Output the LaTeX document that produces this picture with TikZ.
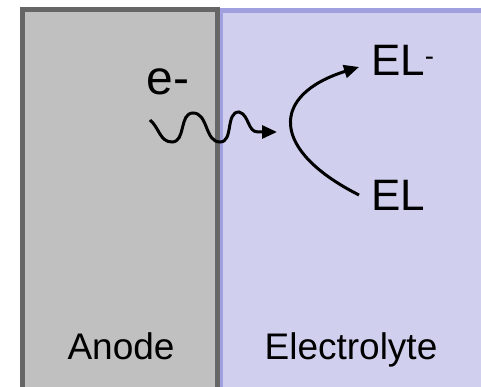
\documentclass[tikz,border=0pt]{standalone}
\usepackage{fontspec}
\setmainfont{Liberation Sans}
\usetikzlibrary{arrows.meta}
\definecolor{anodefill}{RGB}{192,192,192}
\definecolor{anodeline}{RGB}{102,102,102}
\definecolor{elecfill}{RGB}{208,208,238}
\definecolor{elecline}{RGB}{160,160,224}
\tikzset{
  big/.style={font=\fontsize{44}{52}\selectfont, inner sep=0pt},
  lbl/.style={font=\fontsize{37}{44}\selectfont, inner sep=0pt, anchor=base},
  conn/.style={line width=3pt, -{Triangle[length=15pt,width=13pt]}}
}
\begin{document}
\begin{tikzpicture}[x=1pt,y=1pt]
\useasboundingbox (0,0) rectangle (481,387);
\clip (0,0) rectangle (481,387);
% regions
\draw[fill=elecfill, draw=elecline, line width=4.5pt] (221,-10) rectangle (495,376.7);
\draw[fill=anodefill, draw=anodeline, line width=5pt] (22.5,-10) rectangle (217,377.2);
% labels
\node[lbl] (anode) at (121,27) {Anode};
\node[lbl] (electrolyte) at (351,27) {Electrolyte};
\node[big, font=\fontsize{48}{56}\selectfont, anchor=base west] (e) at (146.4,292) {e-};
\node[big, anchor=base west] (elm) at (370.8,311.5) {EL\raisebox{10pt}{\fontsize{27.5}{30}\selectfont -}};
\node[big, anchor=base west] (el) at (370.8,176.5) {EL};
% wave
\coordinate (w0) at (150,267);
\coordinate (w5) at (277,255);
\draw[conn] (w0) to[out=-40,in=180] (172,245) to[out=0,in=180] (193,274)
  to[out=0,in=180] (220,245) to[out=0,in=180] (239,275)
  to[out=-15,in=180] (258,255) -- (w5);
% reaction arrow
\coordinate (r0) at (359,192);
\coordinate (r1) at (359,320);
\draw[conn] (r0) .. controls (270,237) and (270,292) .. (r1);
\end{tikzpicture}
\end{document}
